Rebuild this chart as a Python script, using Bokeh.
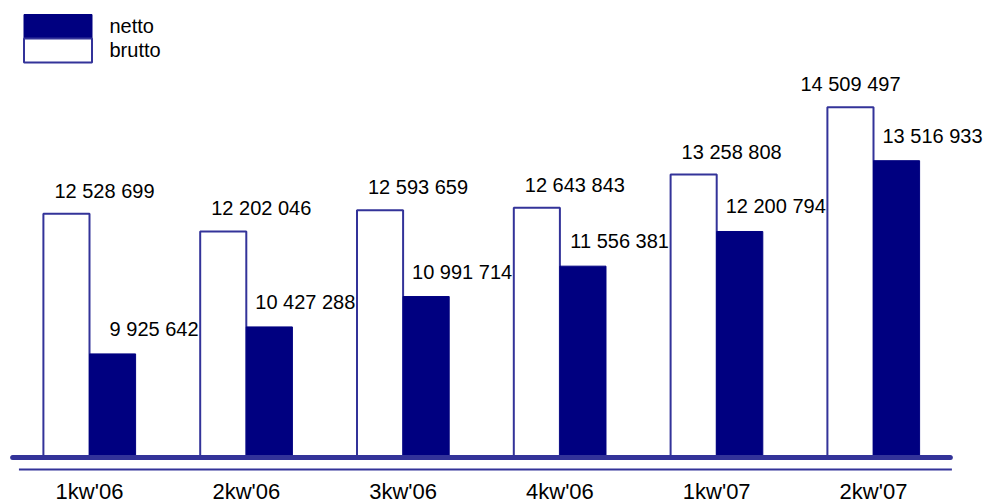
from bokeh.plotting import figure
from bokeh.models import Range1d, Legend, LegendItem, ColumnDataSource
from bokeh.core.properties import value
from bokeh.embed import file_html
from bokeh.resources import INLINE

# ---- data ----
categories = ["1kw'06", "2kw'06", "3kw'06", "4kw'06", "1kw'07", "2kw'07"]
brutto = [12528699, 12202046, 12593659, 12643843, 13258808, 14509497]
netto = [9925642, 10427288, 10991714, 11556381, 12200794, 13516933]
series_names = ["netto", "brutto"]
axis_min = 8000000


def fmt(v):
    return f"{v:,}".replace(",", " ")


n = len(categories)
idx = list(range(n))
half = 0.147
bw = 0.294

NAVY = "#000080"
EDGE = "#333399"
FONT = "Liberation Sans"

W, H = 983, 504
px_per_unit = 156.8
left_px = 89
px_per_val = 53.8e-6  # pixels per value unit
base_px = 457

x_start = -left_px / px_per_unit
x_end = (W - left_px) / px_per_unit
y_start = axis_min - (H - base_px) / px_per_val
y_end = y_start + H / px_per_val

p = figure(width=W, height=H, output_backend="svg", toolbar_location=None,
           x_axis_type=None, y_axis_type=None,
           x_range=Range1d(x_start, x_end), y_range=Range1d(y_start, y_end),
           min_border=0, min_border_left=0, min_border_right=0,
           min_border_top=0, min_border_bottom=0)
p.outline_line_color = None
p.background_fill_color = "white"
p.border_fill_color = "white"

src = ColumnDataSource(dict(
    x=idx,
    xb=[i - half for i in idx],
    xn=[i + half for i in idx],
    cat=categories,
    brutto=brutto,
    netto=netto,
    bl=[fmt(v) for v in brutto],
    nl=[fmt(v) for v in netto],
    base=[axis_min] * n,
    bdx=[38] * (n - 1) + [0],
))

r_b = p.vbar(x="xb", width=bw, top="brutto", bottom="base", source=src,
             fill_color="white", line_color=EDGE, line_width=2)
r_n = p.vbar(x="xn", width=bw, top="netto", bottom="base", source=src,
             fill_color=NAVY, line_color=NAVY, line_width=1)

# base lines
p.segment(x0=[-0.49], x1=[n - 0.51], y0=[axis_min], y1=[axis_min],
          line_color=EDGE, line_width=5, line_cap="round")
thin_y = axis_min - 12 / px_per_val
p.segment(x0=[-0.45], x1=[n - 0.5], y0=[thin_y], y1=[thin_y],
          line_color=EDGE, line_width=2)

# value labels
p.text(x="xb", y="brutto", text="bl", source=src, x_offset="bdx", y_offset=-23,
       text_align="center", text_baseline="middle",
       text_font=value(FONT), text_font_size="20px", text_color="black")
p.text(x="xn", y="netto", text="nl", source=src, x_offset=86, y_offset=-25,
       text_align="right", text_baseline="middle",
       text_font=value(FONT), text_font_size="20px", text_color="black")

# category labels
p.text(x="x", y="base", text="cat", source=src, y_offset=34,
       text_align="center", text_baseline="middle",
       text_font=value(FONT), text_font_size="22px", text_color="black")


def make_legend(label, renderer, vy):
    return Legend(items=[LegendItem(label=label, renderers=[renderer])],
                  location=(3.5, vy), margin=0, padding=11, spacing=0,
                  glyph_width=85, glyph_height=30, label_standoff=10,
                  label_text_font=FONT, label_text_font_size="20px",
                  label_text_color="black",
                  background_fill_alpha=0, border_line_alpha=0)


p.add_layout(make_legend(series_names[0], r_n, 452))
p.add_layout(make_legend(series_names[1], r_b, 428))

open("out.html", "w").write(file_html(p, INLINE))
